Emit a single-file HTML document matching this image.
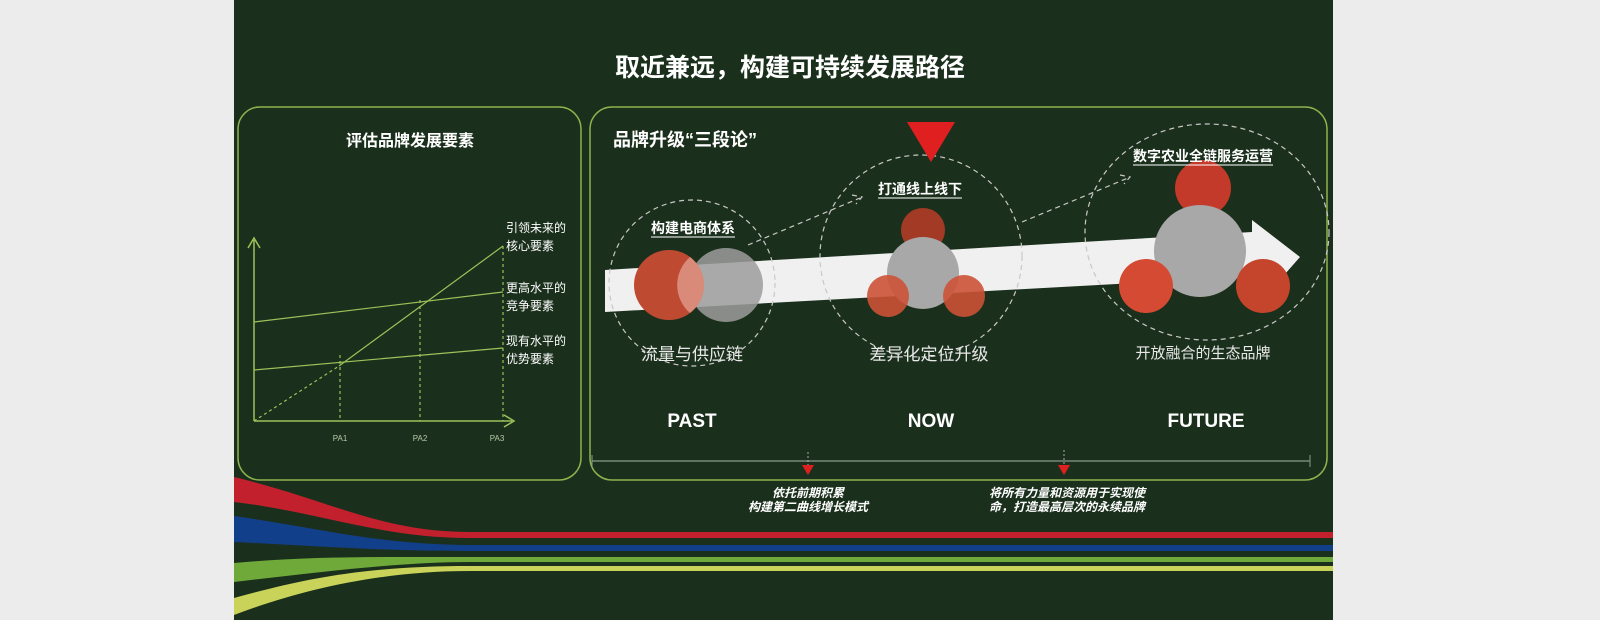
<!DOCTYPE html>
<html><head><meta charset="utf-8"><style>
html,body{margin:0;padding:0;background:#ececec;}
svg{display:block;}
text{font-family:"Liberation Sans","Noto Sans CJK SC",sans-serif;}
</style></head><body>
<svg width="1600" height="620" viewBox="0 0 1600 620" xmlns="http://www.w3.org/2000/svg">
<rect x="0" y="0" width="1600" height="620" fill="#ececec"/>
<rect x="234" y="0" width="1099" height="620" fill="#1b301c"/>
<text x="790" y="76" font-size="25" font-weight="bold" fill="#fff" text-anchor="middle">取近兼远，构建可持续发展路径</text>

<!-- left panel -->
<rect x="238" y="107" width="343" height="373" rx="22" fill="none" stroke="#8fb24e" stroke-width="1.5"/>
<text x="410" y="146" font-size="16" font-weight="bold" fill="#fff" text-anchor="middle">评估品牌发展要素</text>
<g stroke="#9cc25a" fill="none" stroke-width="1.5">
<line x1="254" y1="421" x2="254" y2="240"/>
<polyline points="248,248 254,238 260,248"/>
<line x1="254" y1="421" x2="512" y2="421"/>
<polyline points="504,415 514,421 504,427"/>
</g>
<g stroke="#9cc25a" fill="none" stroke-width="1.2">
<line x1="254" y1="322" x2="503" y2="292"/>
<line x1="254" y1="370" x2="503" y2="348"/>
<line x1="254" y1="421" x2="339" y2="366" stroke-dasharray="3,3"/>
<line x1="339" y1="366" x2="503" y2="246"/>
<line x1="340" y1="355" x2="340" y2="421" stroke-dasharray="3,3"/>
<line x1="420" y1="300" x2="420" y2="421" stroke-dasharray="3,3"/>
<line x1="503" y1="246" x2="503" y2="421" stroke-dasharray="3,3"/>
</g>
<g font-size="12" fill="#fff">
<text x="506" y="232">引领未来的</text><text x="506" y="250">核心要素</text>
<text x="506" y="292">更高水平的</text><text x="506" y="310">竞争要素</text>
<text x="506" y="345">现有水平的</text><text x="506" y="363">优势要素</text>
</g>
<g font-size="8" fill="#b8c8a8" text-anchor="middle" font-family="Liberation Serif,serif">
<text x="340" y="441">PA1</text><text x="420" y="441">PA2</text><text x="497" y="441">PA3</text>
</g>

<!-- right panel -->
<rect x="590" y="107" width="737" height="373" rx="22" fill="none" stroke="#8fb24e" stroke-width="1.5"/>
<text x="613" y="146" font-size="18" font-weight="bold" fill="#fff">品牌升级“三段论”</text>

<!-- arrow band -->
<polygon points="605,270 1252,232 1252,220 1300,257 1262,300 1262,276 605,312" fill="#f0f0f0"/>

<!-- dashed circles -->
<g fill="none" stroke="#c8c8c8" stroke-width="1.2" stroke-dasharray="5,4">
<circle cx="692" cy="283" r="83"/>
<circle cx="921" cy="256" r="101"/>
<ellipse cx="1207" cy="232" rx="122" ry="108"/>
<line x1="748" y1="245" x2="860" y2="198"/>
<polyline points="852,195 862,197 856,204"/>
<line x1="1022" y1="222" x2="1128" y2="178"/>
<polyline points="1120,175 1130,177 1124,184"/>
</g>

<!-- stage 1 -->
<circle cx="669" cy="285" r="35" fill="#bf4a32"/>
<circle cx="726" cy="285" r="37" fill="#9c9c9c" fill-opacity="0.85"/>
<path d="M 690 257 A 37 37 0 0 0 690 313 A 35 35 0 0 0 690 257 Z" fill="#d98a78"/>
<!-- stage 2 -->
<circle cx="923" cy="230" r="22" fill="#a33a26"/>
<circle cx="923" cy="273" r="36" fill="#a8a8a8"/>
<circle cx="888" cy="296" r="21" fill="#cc5236" fill-opacity="0.9"/>
<circle cx="964" cy="296" r="21" fill="#cc5236" fill-opacity="0.9"/>
<!-- stage 3 -->
<circle cx="1203" cy="188" r="28" fill="#c43a2a"/>
<circle cx="1200" cy="251" r="46" fill="#a8a8a8"/>
<circle cx="1146" cy="286" r="27" fill="#d54a32"/>
<circle cx="1263" cy="286" r="27" fill="#c5442c"/>

<!-- red triangle -->
<polygon points="907,122 955,122 931,162" fill="#e02020"/>

<g font-size="14" font-weight="bold" fill="#fff" text-anchor="middle">
<text x="693" y="233">构建电商体系</text>
<text x="920" y="194">打通线上线下</text>
<text x="1203" y="161">数字农业全链服务运营</text>
</g>
<g stroke="#fff" stroke-width="1">
<line x1="651" y1="237" x2="735" y2="237"/>
<line x1="878" y1="198" x2="962" y2="198"/>
<line x1="1133" y1="165" x2="1273" y2="165"/>
</g>
<text x="692" y="360" font-size="17" fill="#e8e8e8" text-anchor="middle">流量与供应链</text>
<text x="929" y="360" font-size="17" fill="#e8e8e8" text-anchor="middle">差异化定位升级</text>
<text x="1203" y="358" font-size="15" fill="#e8e8e8" text-anchor="middle">开放融合的生态品牌</text>
<g font-size="19" font-weight="bold" fill="#fff" text-anchor="middle">
<text x="692" y="427">PAST</text><text x="931" y="427">NOW</text><text x="1206" y="427">FUTURE</text>
</g>

<!-- timeline -->
<line x1="592" y1="461" x2="1310" y2="461" stroke="#8a9a8a" stroke-width="1.2"/>
<line x1="592" y1="455" x2="592" y2="467" stroke="#8a9a8a"/>
<line x1="1310" y1="455" x2="1310" y2="467" stroke="#8a9a8a"/>
<line x1="808" y1="452" x2="808" y2="465" stroke="#aaa" stroke-dasharray="2,2"/>
<line x1="1064" y1="450" x2="1064" y2="465" stroke="#aaa" stroke-dasharray="2,2"/>
<polygon points="802,465 814,465 808,475" fill="#e02020"/>
<polygon points="1058,465 1070,465 1064,475" fill="#e02020"/>
<g font-size="12" font-weight="bold" font-style="italic" fill="#fff" text-anchor="middle">
<text x="808" y="497">依托前期积累</text><text x="808" y="511">构建第二曲线增长模式</text>
<text x="1067" y="497">将所有力量和资源用于实现使</text><text x="1067" y="511">命，打造最高层次的永续品牌</text>
</g>

<!-- bottom stripes -->
<path d="M234 477 C 330 500, 380 532, 470 532 L1333 532 L1333 538 L470 538 C 380 538, 320 512, 234 502 Z" fill="#c3202e"/>
<path d="M234 516 C 320 528, 380 545, 470 545 L1333 545 L1333 551 L470 551 C 380 551, 320 546, 234 542 Z" fill="#123f8a"/>
<path d="M234 563 C 310 556, 380 557, 470 557 L1333 557 L1333 562 L470 562 C 400 562, 320 572, 234 582 Z" fill="#6fa93a"/>
<path d="M234 598 C 300 580, 360 566, 470 566 L1333 566 L1333 571 L470 571 C 380 571, 300 590, 234 615 Z" fill="#c9d35a"/>
</svg>
</body></html>
